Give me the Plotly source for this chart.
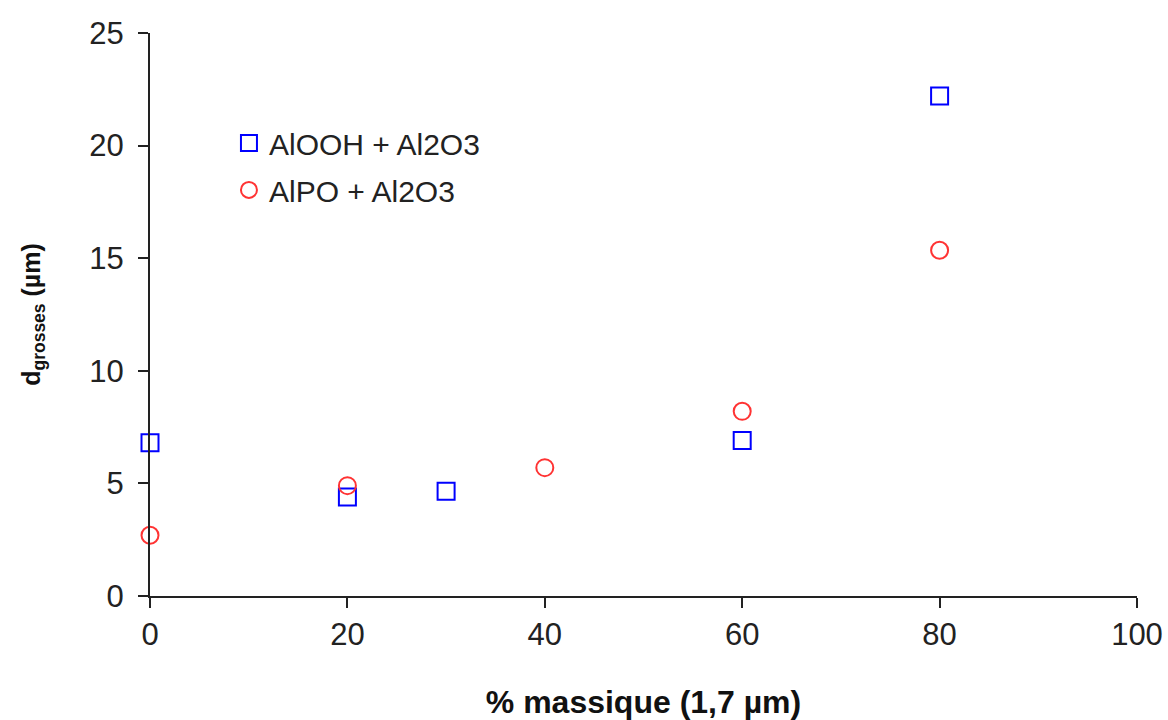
import plotly.graph_objects as go

x_alooh = [0, 20, 30, 60, 80]
y_alooh = [6.8, 4.4, 4.65, 6.9, 22.2]
x_alpo = [0, 20, 40, 60, 80]
y_alpo = [2.7, 4.9, 5.7, 8.2, 15.35]

fig = go.Figure()
fig.add_trace(go.Scatter(x=x_alooh, y=y_alooh, mode="markers", name="AlOOH + Al2O3",
                         legendgroup="a",
                         marker=dict(symbol="square-open", size=17, color="#0000ff",
                                     line=dict(width=2, color="#0000ff")),
                         cliponaxis=False))
fig.add_trace(go.Scatter(x=x_alpo, y=y_alpo, mode="markers", name="AlPO + Al2O3",
                         legendgroup="b",
                         marker=dict(symbol="circle-open", size=17, color="#ff3333",
                                     line=dict(width=2, color="#ff3333")),
                         cliponaxis=False))

font = "Liberation Sans, Arial, sans-serif"
fig.update_layout(
    width=1168, height=720,
    margin=dict(l=150, r=31, t=33, b=124, autoexpand=False),
    plot_bgcolor="white", paper_bgcolor="white",
    font=dict(family=font, size=24, color="#222"),
    showlegend=True,
    legend=dict(x=0.080, y=0.851, xanchor="left", yanchor="top",
                bgcolor="rgba(0,0,0,0)", font=dict(size=30, color="#222"),
                traceorder="grouped", tracegroupgap=5, itemwidth=30),
    xaxis=dict(range=[0, 100], tickvals=[0, 20, 40, 60, 80, 100], automargin=False,
               showline=True, linecolor="#222", linewidth=2, ticks="outside",
               ticklen=10, tickwidth=2, tickcolor="#222", showgrid=False, zeroline=False,
               tickfont=dict(size=31),
               title=dict(text="<b>% massique (1,7 µm)</b>", font=dict(size=32, color="#111"), standoff=46)),
    yaxis=dict(range=[0, 25], tickvals=[0, 5, 10, 15, 20, 25], automargin=False,
               showline=True, linecolor="#222", linewidth=2, ticks="outside",
               ticklen=10, tickwidth=2, tickcolor="#222", showgrid=False, zeroline=False,
               tickfont=dict(size=31), ticklabelstandoff=8,
               title=dict(text="<b>d<sub>grosses</sub> (µm)</b>", font=dict(size=25, color="#111"), standoff=42)),
)
fig.write_html("out.html", config={"displayModeBar": False},
               post_script="document.body.style.margin='0';document.body.style.overflow='hidden';")
